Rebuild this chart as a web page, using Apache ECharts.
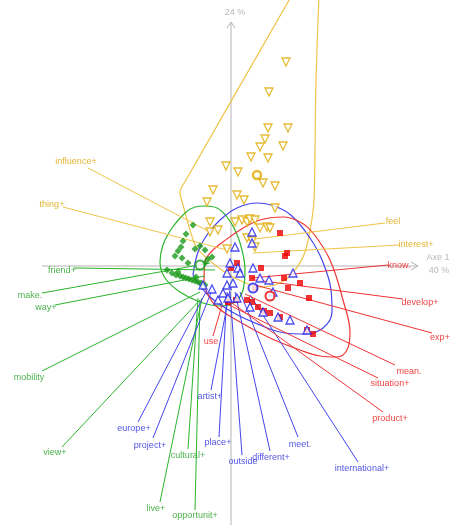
<!DOCTYPE html>
<html><head><meta charset="utf-8">
<script src="https://cdn.jsdelivr.net/npm/echarts@6/dist/echarts.min.js"></script>
<style>html,body{margin:0;padding:0;background:#fff}#c{width:451px;height:525px}</style>
</head><body><div id="c"></div>
<script>
// Factor plane coordinates (Axe 1 horizontal, Axe 2 vertical)
const yellowPts = [[0.55,2.04],[0.38,1.74],[0.37,1.38],[0.57,1.38],[0.34,1.27],[0.29,1.19],[0.52,1.20],[0.20,1.09],[0.37,1.08],[-0.05,1.00],[0.07,0.94],[0.32,0.83],[0.44,0.80],[-0.18,0.76],[0.06,0.71],[0.13,0.66],[-0.24,0.64],[0.44,0.58],[-0.21,0.44],[-0.13,0.36],[-0.21,0.34],[-0.04,0.17],[0.04,0.44],[0.11,0.46],[0.16,0.44],[0.19,0.47],[0.24,0.46],[0.29,0.38],[0.36,0.39],[0.39,0.38],[0.16,0.28],[0.21,0.25],[0.24,0.19]];
const greenPts = [[-0.38,0.41],[-0.45,0.32],[-0.48,0.25],[-0.50,0.19],[-0.53,0.15],[-0.56,0.10],[-0.36,0.17],[-0.31,0.20],[-0.26,0.16],[-0.49,0.08],[-0.23,0.07],[-0.19,0.09],[-0.43,0.03],[-0.26,0.03],[-0.64,-0.04],[-0.59,-0.07],[-0.55,-0.09],[-0.51,-0.10],[-0.48,-0.11],[-0.45,-0.12],[-0.42,-0.13],[-0.39,-0.14],[-0.36,-0.15],[-0.33,-0.16],[-0.30,-0.17],[-0.53,-0.06],[-0.35,-0.11],[-0.26,-0.19]];
const bluePts = [[0.21,0.34],[0.21,0.23],[0.04,0.19],[-0.01,0.03],[0.07,-0.02],[0.09,-0.07],[-0.04,-0.07],[0.22,-0.02],[0.29,-0.12],[0.38,-0.14],[0.62,-0.07],[-0.04,-0.19],[0.02,-0.17],[-0.28,-0.19],[-0.19,-0.23],[-0.08,-0.27],[-0.03,-0.32],[0.06,-0.32],[0.42,-0.26],[0.19,-0.41],[0.32,-0.46],[0.47,-0.51],[0.59,-0.54],[0.76,-0.64],[-0.13,-0.34]];
const redPts = [[0.49,0.33],[0.56,0.13],[0.54,0.10],[0.06,0.03],[0.00,-0.02],[0.30,-0.02],[0.21,-0.12],[0.53,-0.12],[0.69,-0.17],[0.57,-0.22],[0.78,-0.32],[0.24,-0.22],[0.16,-0.34],[0.21,-0.36],[0.27,-0.41],[0.33,-0.45],[0.39,-0.47],[0.49,-0.51],[0.76,-0.64],[0.82,-0.68],[0.05,-0.34],[-0.03,-0.36]];
const centroidYellow = [[0.26,0.91]];
const centroidGreen = [[-0.31,0.01]];
const centroidBlue = [[0.22,-0.22]];
const centroidRed = [[0.39,-0.30]];

const hullYellow = [[0.61,2.71],[-0.45,0.86],[-0.51,0.74],[-0.48,0.61],[-0.41,0.36],[-0.34,0.18],[-0.16,0.01],[0.06,-0.13],[0.29,-0.21],[0.49,-0.17],[0.64,-0.04],[0.74,0.14],[0.80,0.41],[0.83,0.66],[0.84,1.16],[0.85,1.86],[0.88,2.71]];
const hullGreen = [[-0.26,0.60],[-0.14,0.58],[-0.04,0.49],[0.05,0.34],[0.11,0.16],[0.14,-0.04],[0.12,-0.24],[0.04,-0.36],[-0.11,-0.40],[-0.31,-0.36],[-0.51,-0.26],[-0.66,-0.12],[-0.71,0.04],[-0.68,0.21],[-0.59,0.38],[-0.46,0.53],[-0.36,0.59],[-0.26,0.60]];
const hullBlue = [[-0.38,-0.09],[-0.33,0.14],[-0.24,0.31],[-0.11,0.46],[0.06,0.58],[0.26,0.63],[0.46,0.59],[0.62,0.49],[0.79,0.28],[0.91,0.06],[1.00,-0.24],[1.01,-0.46],[0.92,-0.62],[0.74,-0.68],[0.54,-0.67],[0.29,-0.59],[0.01,-0.46],[-0.23,-0.29],[-0.38,-0.09]];
const hullRed = [[-0.27,-0.19],[-0.26,0.04],[-0.20,0.14],[-0.08,0.24],[0.09,0.36],[0.29,0.46],[0.52,0.49],[0.69,0.44],[0.82,0.33],[0.99,0.06],[1.12,-0.34],[1.19,-0.67],[1.16,-0.84],[1.06,-0.91],[0.89,-0.90],[0.69,-0.84],[0.39,-0.72],[0.09,-0.56],[-0.16,-0.39],[-0.27,-0.19]];

// word labels: [text, x, y, lineStartX, lineStartY, lineEndX, lineEndY]
const yellowWords = [["influence+",-1.55,1.04,-1.43,0.98,-0.21,0.34],["thing+",-1.79,0.61,-1.68,0.59,-0.04,0.16],["feel",1.62,0.44,1.54,0.43,0.16,0.26],["interest+",1.85,0.21,1.69,0.21,0.22,0.13]];
const greenWords = [["friend+",-1.69,-0.05,-1.57,-0.02,-0.16,-0.04],["make.",-2.01,-0.30,-1.89,-0.27,-0.21,0.03],["way+",-1.85,-0.42,-1.76,-0.39,-0.26,-0.10],["mobility",-2.02,-1.12,-1.89,-1.05,-0.31,-0.26],["view+",-1.76,-1.87,-1.69,-1.81,-0.31,-0.34],["cultural+",-0.43,-1.90,-0.43,-1.83,-0.33,-0.32],["live+",-0.75,-2.43,-0.71,-2.36,-0.29,-0.32],["opportunit+",-0.36,-2.50,-0.36,-2.44,-0.31,-0.34]];
const blueWords = [["europe+",-0.97,-1.63,-0.93,-1.56,-0.24,-0.24],["project+",-0.81,-1.80,-0.78,-1.72,-0.19,-0.24],["artist+",-0.21,-1.31,-0.20,-1.24,-0.01,-0.24],["place+",-0.13,-1.77,-0.12,-1.71,-0.04,-0.26],["outside",0.12,-1.96,0.11,-1.89,-0.01,-0.26],["different+",0.40,-1.92,0.39,-1.85,0.04,-0.26],["meet.",0.69,-1.79,0.67,-1.71,0.09,-0.26],["international+",1.31,-2.03,1.27,-1.96,0.19,-0.29]];
const redWords = [["know.",1.68,0.00,1.57,0.01,0.21,-0.12],["develop+",1.89,-0.37,1.72,-0.33,0.24,-0.14],["exp+",2.09,-0.72,2.01,-0.67,0.24,-0.19],["mean.",1.78,-1.06,1.64,-0.99,0.14,-0.28],["situation+",1.59,-1.18,1.47,-1.12,-0.06,-0.37],["product+",1.59,-1.53,1.52,-1.46,-0.06,-0.32],["use",-0.20,-0.76,-0.18,-0.70,-0.09,-0.39]];

const axis1Line = [[-1.89,0],[1.87,0]];
const axis1Arrow = [[1.80,0.04],[1.87,0],[1.80,-0.04]];
const axis2Line = [[0,-2.59],[0,2.44]];
const axis2Arrow = [[-0.04,2.38],[0,2.44],[0.04,2.38]];
const axisTexts = [["Axe 1",2.07,0.08],["40 %",2.08,-0.05],["24 %",0.04,2.53]];

const C = {
  y:{text:'#dca200', line:'#f0c448', mark:'#e0aa00'},
  g:{text:'#1e9e1e', line:'#2ab42a', mark:'#1a9a1a'},
  b:{text:'#2828dc', line:'#4444ee', mark:'#2020ee'},
  r:{text:'#ee1010', line:'#f03434', mark:'#ee0000'}
};
const FONT = '"Liberation Sans",Arial,sans-serif';

function polyline(data, color, w, smooth, z){
  return {type:'line', data:data, symbol:'none', smooth:smooth, silent:true, z:z,
    lineStyle:{color:color, width:w}, animation:false};
}
function leaders(words, color){
  return {type:'lines', coordinateSystem:'cartesian2d', silent:true, z:3, animation:false,
    lineStyle:{color:color, width:1, opacity:1},
    data: words.map(w=>({coords:[[w[3],w[4]],[w[5],w[6]]]}))};
}
function wordLabels(words, color){
  return {type:'scatter', symbolSize:0, silent:true, z:10, animation:false,
    data: words.map(w=>({name:w[0], value:[w[1],w[2]]})),
    label:{show:true, position:'inside', formatter:p=>p.name, color:color, fontSize:9, fontFamily:FONT}};
}
function points(data, symbol, color, size, filled, rotate, z){
  return {type:'scatter', data:data, symbol:symbol, symbolSize:size, symbolRotate:rotate||0, silent:true, z:z||6, animation:false,
    itemStyle: filled ? {color:color} : {color:'#ffffff', borderColor:color, borderWidth:1.3}};
}

const series = [
  polyline(axis1Line,'#b4b4b4',1,false,1),
  polyline(axis1Arrow,'#b4b4b4',1,false,1),
  polyline(axis2Line,'#b4b4b4',1,false,1),
  polyline(axis2Arrow,'#b4b4b4',1,false,1),
  polyline(hullYellow,C.y.line,1.2,0.3,2),
  polyline(hullGreen,C.g.line,1.2,0.4,2),
  polyline(hullBlue,C.b.line,1.2,0.4,2),
  polyline(hullRed,C.r.line,1.2,0.4,2),
  leaders(yellowWords,C.y.line),
  leaders(greenWords,C.g.line),
  leaders(blueWords,C.b.line),
  leaders(redWords,C.r.line),
  points(yellowPts,'triangle',C.y.mark,8,false,180,6),
  points(greenPts,'diamond',C.g.mark,7,true,0,6),
  points(redPts,'rect',C.r.mark,6,true,0,7),
  points(bluePts,'triangle',C.b.mark,8,false,0,8),
  {type:'scatter', data:centroidYellow, symbol:'circle', symbolSize:8, silent:true, z:9, animation:false, itemStyle:{color:'#fff', borderColor:C.y.mark, borderWidth:2.5}},
  {type:'scatter', data:centroidGreen, symbol:'circle', symbolSize:9, silent:true, z:9, animation:false, itemStyle:{color:'#fff', borderColor:C.g.mark, borderWidth:2}},
  {type:'scatter', data:centroidBlue, symbol:'circle', symbolSize:9, silent:true, z:9, animation:false, itemStyle:{color:'#fff', borderColor:C.b.mark, borderWidth:2}},
  {type:'scatter', data:centroidRed, symbol:'circle', symbolSize:9, silent:true, z:9, animation:false, itemStyle:{color:'#fff', borderColor:C.r.mark, borderWidth:2}},
  wordLabels(yellowWords,C.y.text),
  wordLabels(greenWords,C.g.text),
  wordLabels(blueWords,C.b.text),
  wordLabels(redWords,C.r.text),
  {type:'scatter', symbolSize:0, silent:true, z:10, animation:false,
    data: axisTexts.map(a=>({name:a[0], value:[a[1],a[2]]})),
    label:{show:true, position:'inside', formatter:p=>p.name, color:'#a8a8a8', fontSize:9, fontFamily:FONT}}
];

const chart = echarts.init(document.getElementById('c'), null, {renderer:'canvas'});
chart.setOption({
  backgroundColor:'#ffffff',
  animation:false,
  grid:{left:0,right:0,top:0,bottom:0,containLabel:false},
  xAxis:{type:'value', min:-2.31, max:2.20, show:false},
  yAxis:{type:'value', min:-2.59, max:2.66, show:false},
  series: series
});
</script></body></html>
